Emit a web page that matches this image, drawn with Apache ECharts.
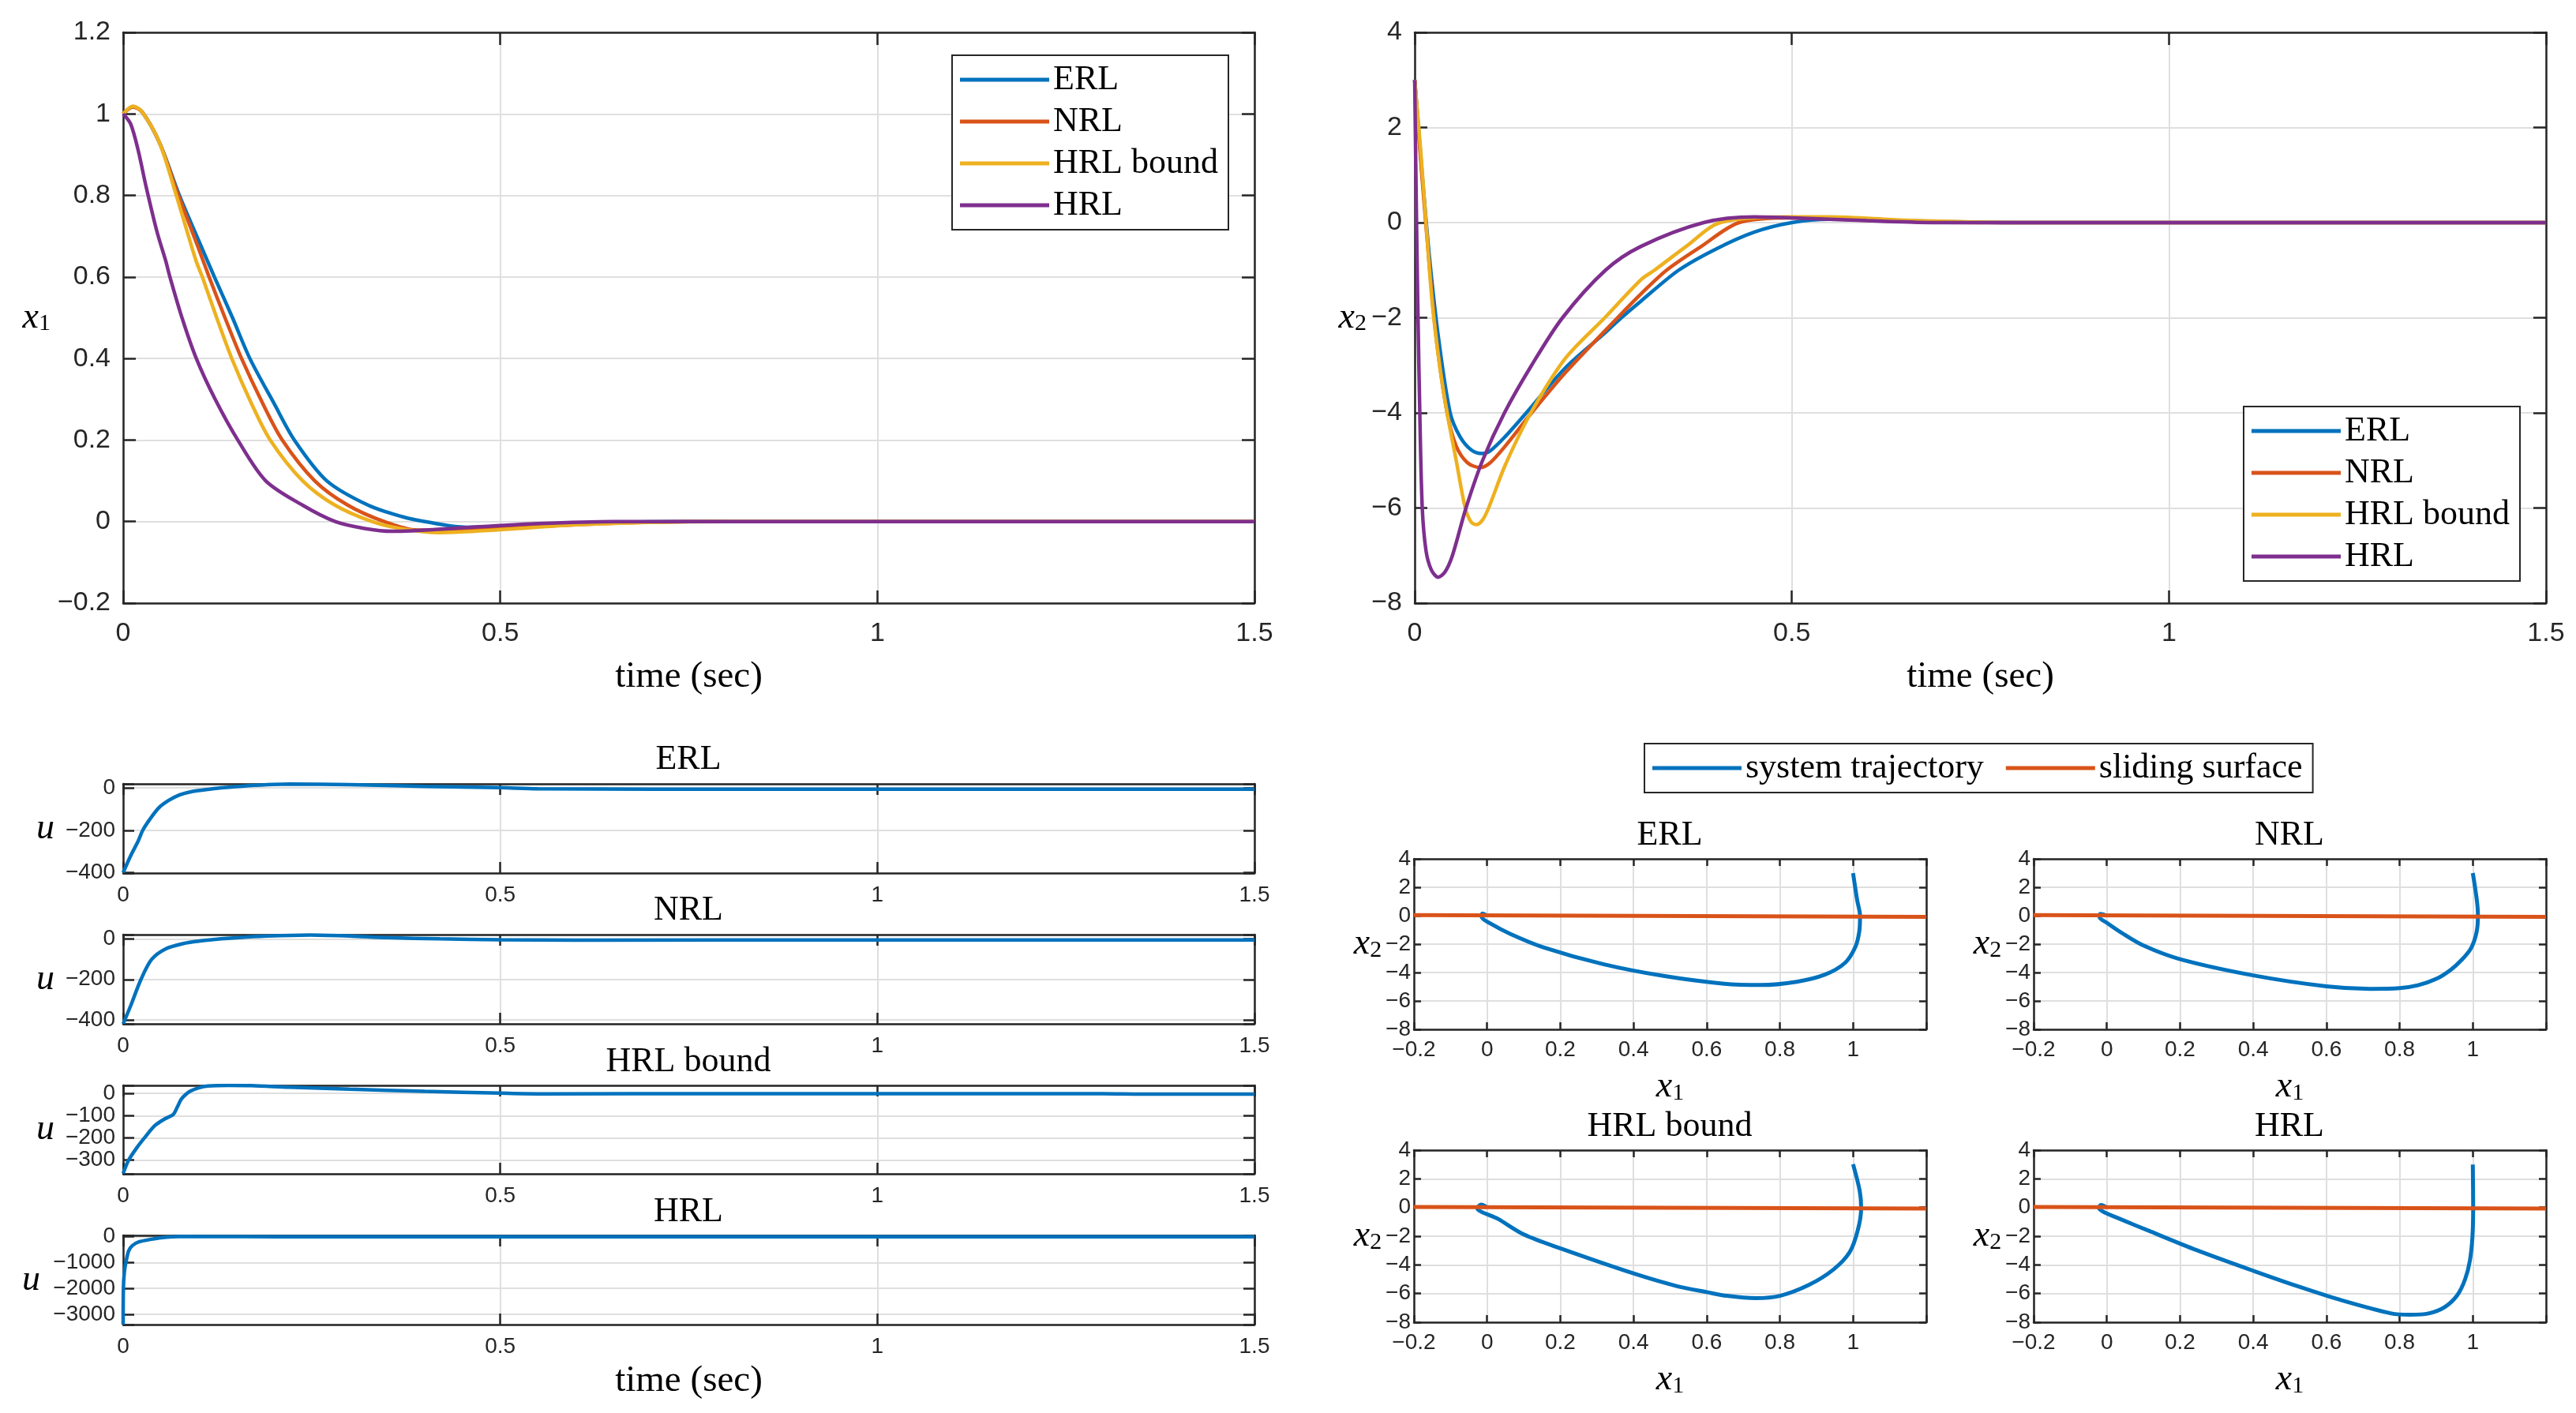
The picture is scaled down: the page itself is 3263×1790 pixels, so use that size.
<!DOCTYPE html>
<html>
<head>
<meta charset="utf-8">
<title>ERL / NRL / HRL responses</title>
<style>
  html, body { margin: 0; padding: 0; background: #fff; }
  #page { width: 3263px; height: 1790px; }
</style>
</head>
<body>
<div id="page"></div>
<script src="https://cdn.jsdelivr.net/npm/echarts@6/dist/echarts.min.js"></script>
<script>
// colours (matlab default order)
var colors = ['#0072BD', '#D95319', '#EDB120', '#7E2F8E'];
var names = ['ERL', 'NRL', 'HRL bound', 'HRL'];

// x1(t)
var x1T_ERL = [0, 0.013, 0.025, 0.048, 0.0746, 0.1, 0.121, 0.145, 0.168, 0.2, 0.227, 0.27, 0.325, 0.37, 0.4, 0.455, 0.55, 0.65, 0.75, 1.5];
var x1V_ERL = [1, 1.018, 1.005, 0.93, 0.8, 0.69, 0.6, 0.5, 0.4, 0.29, 0.2, 0.1, 0.04, 0.012, 0, -0.014, -0.008, -0.002, 0, 0];
var x1T_NRL = [0, 0.013, 0.025, 0.048, 0.0733, 0.1, 0.114, 0.135, 0.157, 0.185, 0.211, 0.254, 0.298, 0.346, 0.39, 0.45, 0.55, 0.65, 0.75, 1.5];
var x1V_NRL = [1, 1.017, 1.005, 0.93, 0.8, 0.67, 0.6, 0.5, 0.4, 0.29, 0.2, 0.1, 0.04, 0, -0.021, -0.019, -0.012, -0.004, 0, 0];
var x1T_HRLb = [0, 0.013, 0.025, 0.048, 0.0705, 0.0966, 0.105, 0.124, 0.144, 0.17, 0.195, 0.238, 0.281, 0.33, 0.37, 0.42, 0.5, 0.6, 0.7, 0.8, 1.5];
var x1V_HRLb = [1, 1.019, 1.005, 0.93, 0.8, 0.64, 0.6, 0.5, 0.4, 0.29, 0.2, 0.1, 0.04, 0, -0.018, -0.027, -0.02, -0.008, -0.002, 0, 0];
var x1T_HRL = [0, 0.01, 0.02, 0.03, 0.045, 0.0565, 0.062, 0.078, 0.097, 0.122, 0.152, 0.189, 0.238, 0.281, 0.32, 0.357, 0.45, 0.55, 0.65, 1.5];
var x1V_HRL = [1, 0.975, 0.91, 0.825, 0.71, 0.639, 0.6, 0.5, 0.4, 0.3, 0.2, 0.1, 0.04, 0, -0.017, -0.024, -0.015, -0.005, 0, 0];

// x2(t)
var x2T_ERL = [0, 0.01, 0.02, 0.032, 0.047, 0.06, 0.075, 0.089, 0.1, 0.12, 0.148, 0.2, 0.25, 0.274, 0.3, 0.35, 0.4, 0.45, 0.5, 0.55, 0.6, 0.7, 0.8, 1.5];
var x2V_ERL = [3, 1.0, -0.8, -2.48, -4.0, -4.5, -4.78, -4.855, -4.8, -4.5, -4.0, -3.05, -2.35, -2.0, -1.65, -1.0, -0.55, -0.2, 0, 0.07, 0.06, 0.02, 0, 0];
var x2T_NRL = [0, 0.01, 0.02, 0.029, 0.043, 0.055, 0.07, 0.087, 0.1, 0.12, 0.155, 0.2, 0.269, 0.3, 0.334, 0.38, 0.43, 0.5, 0.55, 0.65, 0.75, 1.5];
var x2V_NRL = [3, 0.9, -1.0, -2.48, -4.0, -4.7, -5.05, -5.15, -5.05, -4.7, -4.0, -3.15, -2.0, -1.5, -1.0, -0.5, 0, 0.1, 0.08, 0.02, 0, 0];
var x2T_HRLb = [0, 0.008, 0.015, 0.023, 0.033, 0.043, 0.055, 0.067, 0.075, 0.082, 0.09, 0.098, 0.12, 0.154, 0.2, 0.252, 0.3, 0.318, 0.36, 0.405, 0.5, 0.55, 0.65, 0.8, 1.5];
var x2V_HRLb = [3, 1.5, 0, -1.65, -3.0, -4.0, -5.0, -6.0, -6.3, -6.35, -6.25, -6.0, -5.1, -4.0, -2.85, -2.0, -1.2, -1.0, -0.5, 0, 0.12, 0.12, 0.05, 0, 0];
var x2T_HRL = [0, 0.002, 0.004, 0.007, 0.01, 0.015, 0.022, 0.031, 0.04, 0.05, 0.068, 0.09, 0.119, 0.155, 0.196, 0.253, 0.3, 0.383, 0.45, 0.5, 0.6, 0.7, 1.5];
var x2V_HRL = [3, 0.5, -1.65, -4.2, -6.0, -6.9, -7.3, -7.455, -7.35, -7.0, -6.0, -5.0, -4.0, -3.0, -2.0, -1.0, -0.5, 0, 0.12, 0.1, 0.04, 0, 0];

// control input u(t)
var uT_ERL = [0, 0.01, 0.02, 0.026, 0.035, 0.047, 0.06, 0.075, 0.09, 0.108, 0.13, 0.164, 0.22, 0.3, 0.4, 0.5, 0.55, 0.7, 1.0, 1.5];
var uV_ERL = [-400, -320, -250, -200, -150, -95, -60, -33, -18, -9, 0, 10, 18, 15, 7, 1, -4, -6, -6, -6];
var uT_NRL = [0, 0.01, 0.0236, 0.0377, 0.056, 0.08, 0.1, 0.117, 0.164, 0.2, 0.248, 0.3, 0.35, 0.42, 0.5, 0.6, 1.0, 1.5];
var uV_NRL = [-420, -330, -200, -101, -49, -22, -10, -3, 10, 16, 20, 15, 7, 1, -3, -5, -4, -4];
var uT_HRLb = [0, 0.0073, 0.018, 0.0283, 0.042, 0.055, 0.0666, 0.072, 0.077, 0.083, 0.089, 0.1, 0.112, 0.14, 0.17, 0.22, 0.3, 0.4, 0.5, 0.55, 0.8, 1.3, 1.35, 1.5];
var uV_HRLb = [-360, -300, -245, -200, -145, -115, -94, -60, -26, -5, 10, 25, 33, 36, 35, 28, 19, 9, 1, -2, -1, -1, -3, -3];
var uT_HRL = [0, 0.0003, 0.0015, 0.0036, 0.0073, 0.012, 0.021, 0.0376, 0.05, 0.066, 0.08, 0.12, 0.2, 1.5];
var uV_HRL = [-3400, -2000, -1400, -1000, -550, -350, -200, -100, -40, 0, 10, 5, 0, 0];

// phase portraits (x1, x2)
var phX_ERL = [1.0, 1.011, 1.019, 1.017, 1.006, 0.978, 0.923, 0.846, 0.747, 0.648, 0.482, 0.317, 0.152, 0.064, 0.009, -0.015, -0.013, 0];
var phY_ERL = [2.99, 1.11, 0, -1.1, -2.21, -3.32, -4.15, -4.65, -4.88, -4.79, -4.24, -3.41, -2.21, -1.29, -0.55, -0.09, 0.15, 0];
var phX_NRL = [1, 1.011, 1.014, 1.01, 0.995, 0.97, 0.94, 0.9, 0.85, 0.8, 0.72, 0.6, 0.4, 0.2, 0.1, 0.04, 0, -0.02, -0.018, 0];
var phY_NRL = [3, 1.1, 0, -1.2, -2.3, -3.1, -3.8, -4.45, -4.9, -5.1, -5.15, -4.97, -4.2, -3.06, -2.1, -1.2, -0.5, -0.1, 0.12, 0];
var phX_HRLb = [1.0, 1.018, 1.022, 1.013, 0.991, 0.946, 0.879, 0.8, 0.734, 0.655, 0.6, 0.521, 0.4, 0.2, 0.1, 0.03, -0.027, -0.016, 0];
var phY_HRLb = [3.02, 1.18, -0.04, -1.57, -3.1, -4.33, -5.4, -6.16, -6.32, -6.16, -5.9, -5.5, -4.6, -2.85, -1.88, -0.8, -0.04, 0.2, 0];
var phX_HRL = [1.0, 1.001, 0.999, 0.992, 0.979, 0.958, 0.924, 0.879, 0.828, 0.777, 0.641, 0.528, 0.403, 0.245, 0.12, 0.041, -0.01, -0.022, -0.016, 0];
var phY_HRL = [2.99, 0, -2.05, -3.71, -5.0, -6.1, -6.93, -7.39, -7.48, -7.39, -6.47, -5.55, -4.44, -2.97, -1.68, -0.85, -0.29, -0.02, 0.17, 0];
// sliding surface end points
var surfX = [-0.2, 1.2];
var surfY = [0.04, -0.08];

// tick labels
var tTicks = [0, 0.5, 1, 1.5];
var x1Ticks = [-0.2, 0, 0.2, 0.4, 0.6, 0.8, 1, 1.2];
var x2Ticks = [-8, -6, -4, -2, 0, 2, 4];
var phXTicks = [-0.2, 0, 0.2, 0.4, 0.6, 0.8, 1];
var uTicks400 = [-400, -200, 0];
var uTicks300 = [-300, -200, -100, 0];
var uTicks3000 = [-3000, -2000, -1000, 0];

var SANS = 'Liberation Sans';
var SERIF = 'Liberation Serif';
var INK = '#262626';

function zip(a, b) {
    return a.map(function (v, i) { return [v, b[i]]; });
}

function fmt(ticks) {
    return function (v) {
        for (var i = 0; i < ticks.length; i++) {
            if (Math.abs(v - ticks[i]) < 1e-6) {
                var t = ticks[i];
                return t < 0 ? '\u2212' + Math.abs(t) : String(t);
            }
        }
        return '';
    };
}

// italic variable with optional subscript, e.g. x_1
var varRich = {
    i: {fontFamily: SERIF, fontStyle: 'italic', fontSize: 46, lineHeight: 46, color: '#000', verticalAlign: 'top'},
    s: {fontFamily: SERIF, fontSize: 30, lineHeight: 30, color: '#000', verticalAlign: 'bottom', padding: [20, 0, 0, 0]}
};

var option = {
    animation: false,
    backgroundColor: '#fff',
    grid: [], xAxis: [], yAxis: [], series: [], legend: [], graphic: []
};

function axis(pos, gi, a, p) {
    var main = pos === 'bottom' || pos === 'left';
    var o = {
        type: 'value', gridIndex: gi, position: pos,
        min: a.min, max: a.max,
        axisLine: {show: true, onZero: false, lineStyle: {color: INK, width: 2.5}},
        axisTick: {show: true, inside: true, length: p.tick, lineStyle: {color: INK, width: 2.5}},
        axisLabel: {
            show: main, margin: pos === 'bottom' ? p.xMargin : p.yMargin,
            fontFamily: SANS, fontSize: p.font, color: INK, formatter: fmt(a.ticks)
        },
        splitLine: {show: main, lineStyle: {color: '#dfdfdf', width: 2}}
    };
    if (a.interval) {
        o.interval = a.interval;
    } else {
        o.minInterval = a.step;
        o.maxInterval = a.step;
    }
    if (main && a.name) {
        o.name = a.name;
        o.nameLocation = 'middle';
        o.nameGap = a.gap;
        o.nameRotate = 0;
        o.nameTextStyle = a.nameStyle;
    }
    return o;
}

function panel(p) {
    var gi = option.grid.length;
    option.grid.push({left: p.left, top: p.top, width: p.width, height: p.height, containLabel: false});
    var xi = option.xAxis.length, yi = option.yAxis.length;
    option.xAxis.push(axis('bottom', gi, p.x, p));
    option.xAxis.push(axis('top', gi, p.x, p));
    option.yAxis.push(axis('left', gi, p.y, p));
    option.yAxis.push(axis('right', gi, p.y, p));
    return {x: xi, y: yi};
}

function line(ax, name, color, data, width) {
    option.series.push({
        type: 'line', name: name, xAxisIndex: ax.x, yAxisIndex: ax.y,
        data: data, showSymbol: false, symbol: 'none', smooth: 0.3,
        lineStyle: {color: color, width: width}, itemStyle: {color: color}
    });
}

function title(x, y, text) {
    option.graphic.push({
        type: 'text', x: x, y: y,
        style: {text: text, font: '44px "' + SERIF + '"', fill: '#000',
            align: 'center', verticalAlign: 'middle', textAlign: 'center', textVerticalAlign: 'middle'}
    });
}

var timeName = {fontFamily: SERIF, fontSize: 47, color: '#000'};
var uName = {fontFamily: SERIF, fontStyle: 'italic', fontSize: 46, color: '#000'};
var varName = {rich: varRich};

// ---- top: x1 and x2 against time
var big = {tick: 16, font: 34, xMargin: 22, yMargin: 16};
var pX1 = panel(Object.assign({left: 156, top: 41, width: 1433, height: 723,
    x: {min: 0, max: 1.5, interval: 0.5, ticks: tTicks, name: 'time (sec)', gap: 70, nameStyle: timeName},
    y: {min: -0.2, max: 1.2, interval: 0.2, ticks: x1Ticks, name: '{i|x}{s|1}', gap: 92, nameStyle: varName}}, big));
var pX2 = panel(Object.assign({left: 1792, top: 41, width: 1433, height: 723,
    x: {min: 0, max: 1.5, interval: 0.5, ticks: tTicks, name: 'time (sec)', gap: 70, nameStyle: timeName},
    y: {min: -8, max: 4, interval: 2, ticks: x2Ticks, name: '{i|x}{s|2}', gap: 61, nameStyle: varName}}, big));

var x1Sets = [[x1T_ERL, x1V_ERL], [x1T_NRL, x1V_NRL], [x1T_HRLb, x1V_HRLb], [x1T_HRL, x1V_HRL]];
var x2Sets = [[x2T_ERL, x2V_ERL], [x2T_NRL, x2V_NRL], [x2T_HRLb, x2V_HRLb], [x2T_HRL, x2V_HRL]];
for (var i = 0; i < 4; i++) {
    line(pX1, names[i], colors[i], zip(x1Sets[i][0], x1Sets[i][1]), 4.5);
    line(pX2, names[i], colors[i], zip(x2Sets[i][0], x2Sets[i][1]), 4.5);
}

// ---- bottom left: control input
var small = {tick: 14, font: 28, xMargin: 14, yMargin: 10};
var uPanels = [
    {top: 993, height: 113, y: {min: -402, max: 19, step: 200, ticks: uTicks400, name: 'u', gap: 87, nameStyle: uName}, t: uT_ERL, v: uV_ERL},
    {top: 1184, height: 113, y: {min: -420, max: 22, step: 200, ticks: uTicks400, name: 'u', gap: 87, nameStyle: uName}, t: uT_NRL, v: uV_NRL},
    {top: 1375, height: 112, y: {min: -362, max: 36, step: 100, ticks: uTicks300, name: 'u', gap: 87, nameStyle: uName}, t: uT_HRLb, v: uV_HRLb},
    {top: 1565, height: 113, y: {min: -3400, max: 50, step: 1000, ticks: uTicks3000, name: 'u', gap: 105, nameStyle: uName}, t: uT_HRL, v: uV_HRL}
];
var uTitleY = [962, 1153, 1345, 1535];
uPanels.forEach(function (u, k) {
    var xa = {min: 0, max: 1.5, interval: 0.5, ticks: tTicks};
    if (k === 3) { xa.name = 'time (sec)'; xa.gap = 48; xa.nameStyle = timeName; }
    var ax = panel(Object.assign({left: 156, top: u.top, width: 1433, height: u.height, x: xa, y: u.y}, small));
    line(ax, 'u ' + names[k], colors[0], zip(u.t, u.v), 4.5);
    title(872, uTitleY[k], names[k]);
});

// ---- bottom right: phase portraits
var phase = {tick: 9, font: 28, xMargin: 12, yMargin: 4};
var phSets = [[phX_ERL, phY_ERL], [phX_NRL, phY_NRL], [phX_HRLb, phY_HRLb], [phX_HRL, phY_HRL]];
var phPos = [[1791, 1088, 216], [2576, 1088, 216], [1791, 1457, 218], [2576, 1457, 218]];
for (var k = 0; k < 4; k++) {
    var ax = panel(Object.assign({left: phPos[k][0], top: phPos[k][1], width: 649, height: phPos[k][2],
        x: {min: -0.2, max: 1.2, interval: 0.2, ticks: phXTicks, name: '{i|x}{s|1}', gap: 50, nameStyle: varName},
        y: {min: -8, max: 4, interval: 2, ticks: x2Ticks, name: '{i|x}{s|2}', gap: 40, nameStyle: varName}}, phase));
    line(ax, 'system trajectory', colors[0], zip(phSets[k][0], phSets[k][1]), 5);
    line(ax, 'sliding surface', colors[1], zip(surfX, surfY), 5);
    title(phPos[k][0] + 324, phPos[k][1] - 30, names[k]);
}

// ---- legends
function legendBox(data, left, top, orient) {
    return {
        data: data, orient: orient, left: left, top: top,
        icon: 'rect', itemWidth: 113, itemHeight: 5, itemGap: orient === 'vertical' ? 9 : 28,
        selectedMode: false, backgroundColor: '#fff',
        borderColor: INK, borderWidth: 2, borderRadius: 0, padding: [9, 13, 9, 10],
        textStyle: {fontFamily: SERIF, fontSize: 44, color: '#000'}
    };
}
option.legend.push(legendBox(names, 1206, 70, 'vertical'));
option.legend.push(legendBox(names, 2842, 515, 'vertical'));
option.legend.push(legendBox(['system trajectory', 'sliding surface'], 2083, 942, 'horizontal'));

var chart = echarts.init(document.getElementById('page'), null, {renderer: 'canvas'});
chart.setOption(option);
</script>
</body>
</html>
